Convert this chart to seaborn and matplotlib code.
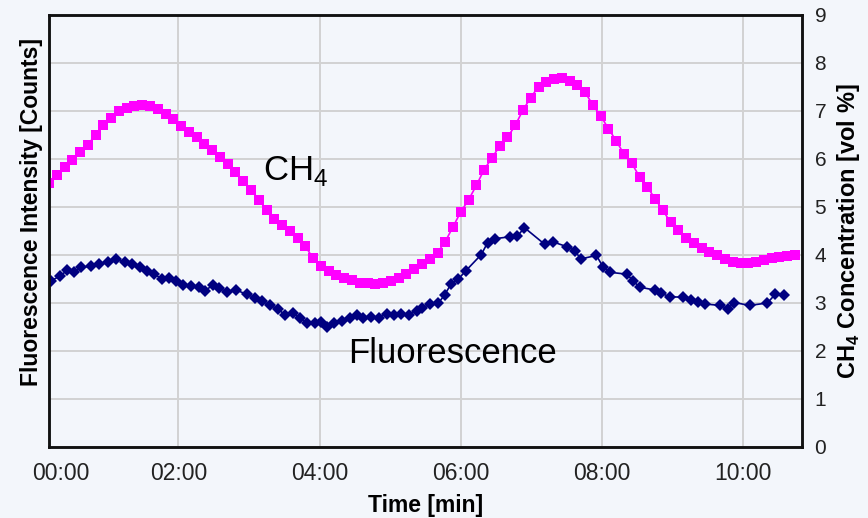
import numpy as np
import pandas as pd
import seaborn as sns
import matplotlib.pyplot as plt
from matplotlib.transforms import ScaledTranslation

# CH4 concentration [vol %], one reading every ~6.6 s starting at 00:10
ch4_start = 0.17
ch4_step = 0.11
ch4_values = [
    5.50, 5.67, 5.83, 5.98, 6.15, 6.30, 6.50, 6.70, 6.86, 7.00,
    7.07, 7.11, 7.12, 7.10, 7.04, 6.94, 6.83, 6.68, 6.57, 6.45,
    6.32, 6.19, 6.05, 5.90, 5.72, 5.55, 5.36, 5.15, 4.94, 4.75,
    4.62, 4.50, 4.36, 4.18, 3.93, 3.78, 3.67, 3.58, 3.52, 3.47,
    3.42, 3.41, 3.40, 3.42, 3.46, 3.53, 3.61, 3.70, 3.81, 3.92,
    4.05, 4.28, 4.59, 4.90, 5.15, 5.45, 5.78, 6.02, 6.27, 6.45,
    6.70, 7.02, 7.28, 7.51, 7.61, 7.67, 7.68, 7.63, 7.55, 7.39,
    7.12, 6.90, 6.63, 6.38, 6.10, 5.91, 5.63, 5.42, 5.17, 4.93,
    4.68, 4.52, 4.36, 4.25, 4.15, 4.07, 3.99, 3.91, 3.85, 3.83,
    3.83, 3.86, 3.90, 3.93, 3.96, 3.98, 4.01,
]
ch4_time = np.round(ch4_start + ch4_step * np.arange(len(ch4_values)), 2)

# Fluorescence intensity (arbitrary counts, drawn on the same grid)
fl_time = [
    0.20, 0.32, 0.43, 0.53, 0.63, 0.76, 0.88, 1.01, 1.12, 1.24,
    1.35, 1.46, 1.56, 1.66, 1.77, 1.87, 1.97, 2.06, 2.18, 2.29,
    2.38, 2.49, 2.58, 2.69, 2.82, 2.97, 3.09, 3.18, 3.30, 3.41,
    3.51, 3.62, 3.73, 3.82, 3.93, 4.02, 4.10, 4.21, 4.32, 4.43,
    4.53, 4.62, 4.73, 4.84, 4.95, 5.06, 5.16, 5.27, 5.38, 5.45,
    5.56, 5.68, 5.77, 5.86, 5.96, 6.07, 6.29, 6.38, 6.48, 6.70,
    6.80, 6.90, 7.19, 7.31, 7.51, 7.61, 7.70, 7.92, 8.01, 8.11,
    8.35, 8.44, 8.53, 8.75, 8.84, 8.96, 9.15, 9.26, 9.36, 9.45,
    9.67, 9.78, 9.87, 10.09, 10.34, 10.45, 10.58,
]
fl_values = [
    3.46, 3.56, 3.68, 3.65, 3.74, 3.77, 3.82, 3.85, 3.92, 3.85,
    3.82, 3.75, 3.66, 3.60, 3.50, 3.53, 3.46, 3.38, 3.35, 3.33,
    3.26, 3.37, 3.31, 3.23, 3.27, 3.18, 3.11, 3.05, 2.95, 2.88,
    2.75, 2.80, 2.68, 2.58, 2.58, 2.60, 2.51, 2.58, 2.62, 2.68,
    2.75, 2.68, 2.71, 2.69, 2.78, 2.75, 2.78, 2.76, 2.84, 2.90,
    2.97, 2.99, 3.17, 3.39, 3.49, 3.67, 4.01, 4.26, 4.34, 4.38,
    4.39, 4.57, 4.22, 4.27, 4.17, 4.09, 3.92, 3.99, 3.76, 3.64,
    3.60, 3.46, 3.33, 3.27, 3.20, 3.13, 3.12, 3.06, 3.03, 2.98,
    2.95, 2.88, 3.01, 2.95, 3.00, 3.18, 3.16,
]

x_ticks = [0.17, 2, 4, 6, 8, 10]
x_ticklabels = ["00:00", "02:00", "04:00", "06:00", "08:00", "10:00"]
y_ticks = [0, 1, 2, 3, 4, 5, 6, 7, 8, 9]

ch4_df = pd.DataFrame({"time": ch4_time, "ch4": ch4_values})
fl_df = pd.DataFrame({"time": fl_time, "fl": fl_values})

sns.set_style("whitegrid")
bg = "#F3F6FB"
plt.rcParams["font.family"] = ["Liberation Sans", "DejaVu Sans"]
plt.rcParams["text.color"] = "black"
plt.rcParams["axes.labelcolor"] = "black"
plt.rcParams["mathtext.fontset"] = "custom"
plt.rcParams["mathtext.rm"] = "Liberation Sans"
plt.rcParams["mathtext.bf"] = "Liberation Sans:bold"

fig = plt.figure(figsize=(8.68, 5.18), dpi=100, facecolor=bg)
ax = fig.add_axes([49 / 868, 71 / 518, 753 / 868, 432 / 518])
ax.set_facecolor(bg)
ax2 = ax.twinx()

sns.lineplot(data=fl_df, x="time", y="fl", ax=ax, color="#000080",
             marker="D", markersize=6, markeredgewidth=0, linewidth=1.2)
sns.lineplot(data=ch4_df, x="time", y="ch4", ax=ax2, color="#FF00FF",
             marker="s", markersize=7.5, markeredgewidth=0, linewidth=1.2)

for a in (ax, ax2):
    a.set_xlim(0.17, 10.83)
    a.set_ylim(0, 9)
    a.set_xlabel("")
    a.set_ylabel("")
    for s in a.spines.values():
        s.set_color("#111111")
        s.set_linewidth(1.8)

ax.set_yticks(y_ticks)
ax.set_yticklabels([])
ax.set_xticks(x_ticks)
ax.set_xticklabels(x_ticklabels, fontsize=16.5, color="#222222")
ax.tick_params(axis="x", length=0, pad=11)
ax.tick_params(axis="y", length=0, pad=0)
ax.grid(True, color="#D2D2D2", linewidth=1.4)
ax2.grid(False)
ax2.set_yticks(y_ticks)
ax2.set_yticklabels([str(v) for v in y_ticks], fontsize=15, color="#222222")
ax2.tick_params(axis="y", length=0, pad=9)

# first label sits a bit right of the axis start, like the original
first = ax.get_xticklabels()[0]
first.set_transform(first.get_transform() + ScaledTranslation(0.12, 0, fig.dpi_scale_trans))

ax.set_ylabel("Fluorescence Intensity [Counts]", fontsize=16.5, fontweight="bold")
ax.yaxis.set_label_coords(-0.008, 0.544)
ax2.set_ylabel(r"CH$_\mathbf{4}$ Concentration [vol %]", fontsize=17, fontweight="bold", labelpad=6)
ax.set_xlabel("Time [min]", fontsize=16.5, fontweight="bold", labelpad=6)

ax.text(3.2, 5.75, "CH$_4$", fontsize=25, ha="left", va="center")
ax.text(4.4, 1.95, "Fluorescence", fontsize=25, ha="left", va="center")

fig.savefig("out.png", dpi=100, facecolor=bg)
